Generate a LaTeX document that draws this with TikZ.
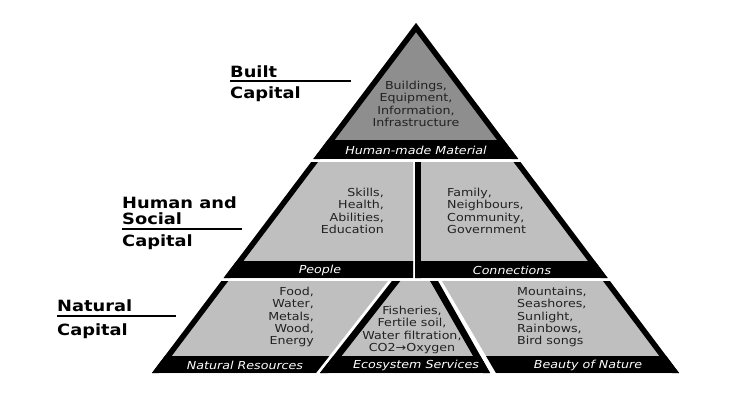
\documentclass[tikz,border=0pt]{standalone}
\usepackage{fontspec}
\setmainfont[FakeStretch=1.15]{DejaVu Sans}
\definecolor{topgray}{HTML}{8E8E8E}
\definecolor{lowgray}{HTML}{BFBFBF}
\definecolor{ink}{HTML}{222222}
\begin{document}
\begin{tikzpicture}[x=1pt,y=-1pt,
  content/.style={font=\fontsize{11}{12.4}\selectfont, text=ink, inner sep=0pt},
  barlabel/.style={font=\fontsize{11}{12}\selectfont\itshape, text=white, inner sep=0pt},
  title/.style={font=\fontsize{15.5}{17}\selectfont\bfseries, text=black, anchor=base west, inner sep=0pt},
  rulel/.style={line width=1.3pt},
  edgeline/.style={line width=11pt, black}]
\useasboundingbox[fill=white] (0,0) rectangle (735,400);

% top region
\begin{scope}
\clip (416,23) -- (313.4,159) -- (518.2,159) -- cycle;
\fill[topgray] (300,0) rectangle (540,159);
\draw[edgeline] (313.4,159) -- (416,23) -- (518.2,159);
\fill[black] (300,140) rectangle (540,159);
\end{scope}

% People
\begin{scope}
\clip (311.2,162) -- (413,162) -- (413,278) -- (223.7,278) -- cycle;
\fill[lowgray] (200,150) rectangle (420,280);
\draw[edgeline] (327.7,140) -- (207.1,300);
\fill[black] (200,261) rectangle (420,278);
\end{scope}

% Connections
\begin{scope}
\clip (415,162) -- (520.4,162) -- (607.6,278) -- (415,278) -- cycle;
\fill[lowgray] (410,150) rectangle (620,280);
\draw[edgeline] (415,140) -- (415,300);
\draw[edgeline] (503.9,140) -- (624.1,300);
\fill[black] (410,261) rectangle (620,278);
\end{scope}

% Natural resources
\begin{scope}
\clip (221.4,281) -- (388,281) -- (316,373) -- (152,373) -- cycle;
\fill[lowgray] (140,275) rectangle (400,380);
\draw[edgeline] (237.2,260) -- (131.6,400);
\fill[black] (140,356) rectangle (400,373);
\end{scope}

% Ecosystem services
\begin{scope}
\clip (392,281) -- (438,281) -- (490,373) -- (320,373) -- cycle;
\fill[lowgray] (300,275) rectangle (520,380);
\draw[line width=13pt] (305.9,391) -- (418.3,247.4) -- (500.6,391);
\fill[black] (300,356) rectangle (520,373);
\end{scope}

% Beauty of nature
\begin{scope}
\clip (442,281) -- (609.9,281) -- (679,373) -- (496,373) -- cycle;
\fill[lowgray] (430,275) rectangle (690,380);
\draw[edgeline] (594.1,260) -- (699.3,400);
\fill[black] (430,356) rectangle (690,373);
\end{scope}

% texts
\node[content, align=center] (t1) at (416,104) {Buildings,\\Equipment,\\Information,\\Infrastructure};
\node[barlabel] (b1) at (416,150) {Human-made Material};
\node[content, align=right, anchor=east] (t2) at (384,211) {Skills,\\Health,\\Abilities,\\Education};
\node[content, align=left, anchor=west] (t3) at (447,211) {Family,\\Neighbours,\\Community,\\Government};
\node[barlabel] (b2) at (320,270) {People};
\node[barlabel] (b3) at (512,270) {Connections};
\node[content, align=right, anchor=east] (t4) at (314,317) {Food,\\Water,\\Metals,\\Wood,\\Energy};
\node[content, align=center] (t5) at (412,330) {Fisheries,\\Fertile soil,\\Water filtration,\\CO2→Oxygen};
\node[content, align=left, anchor=west] (t6) at (517,317) {Mountains,\\Seashores,\\Sunlight,\\Rainbows,\\Bird songs};
\node[barlabel] (b4) at (245,365) {Natural Resources};
\node[barlabel] (b5) at (416,365) {Ecosystem Services};
\node[barlabel] (b6) at (588,365) {Beauty of Nature};

% titles
\node[title] (n1) at (230,77) {Built};
\coordinate (r1a) at (230,81); \coordinate (r1b) at (351,81);
\draw[rulel] (r1a) -- (r1b);
\node[title] (n2) at (230,98) {Capital};
\node[title] (n3) at (122,208) {Human and};
\node[title] (n4) at (122,224) {Social};
\coordinate (r2a) at (122,229); \coordinate (r2b) at (242,229);
\draw[rulel] (r2a) -- (r2b);
\node[title] (n5) at (122,246) {Capital};
\node[title] (n6) at (57,311) {Natural};
\coordinate (r3a) at (57,316); \coordinate (r3b) at (176,316);
\draw[rulel] (r3a) -- (r3b);
\node[title] (n7) at (57,335) {Capital};
\end{tikzpicture}
\end{document}
